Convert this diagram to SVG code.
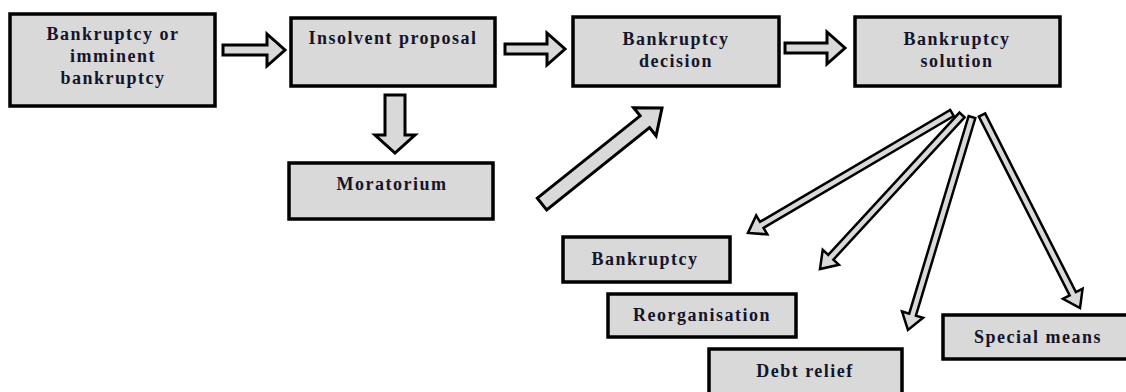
<svg xmlns="http://www.w3.org/2000/svg" width="1126" height="392" viewBox="0 0 1126 392">
<style>
.box{fill:#d9d9d9;stroke:#000;stroke-width:3.5}
.t{font-family:'Liberation Serif',serif;font-weight:bold;font-size:18px;letter-spacing:1.5px;fill:#14142a;text-anchor:middle}
.big{fill:#d9d9d9;stroke:#000;stroke-width:3;stroke-linejoin:miter}
.thin{fill:#d9d9d9;stroke:#000;stroke-width:2.5;stroke-linejoin:miter}
</style>
<rect width="1126" height="392" fill="#fff"/>
<g id="connectors">
  <polygon class="big" transform="translate(223,50)" points="0,-5 44,-5 44,-16 62,0 44,16 44,5 0,5"/>
  <polygon class="big" transform="translate(505,49)" points="0,-5 42,-5 42,-16 60,0 42,16 42,5 0,5"/>
  <polygon class="big" transform="translate(785,48)" points="0,-5 42,-5 42,-16 60,0 42,16 42,5 0,5"/>
  <polygon class="big" transform="translate(395,95) rotate(90)" points="0,-10 40,-10 40,-20 58,0 40,20 40,10 0,10"/>
  <polygon class="big" transform="translate(542,204) rotate(-38.66)" points="0,-7.5 131.7,-7.5 131.7,-18 153.7,0 131.7,18 131.7,7.5 0,7.5"/>
  <polygon class="thin" transform="translate(952,113) rotate(149.54)" points="0,-3.5 220.7,-3.5 220.7,-11 236.7,0 220.7,11 220.7,3.5 0,3.5"/>
  <polygon class="thin" transform="translate(962,115) rotate(132.68)" points="0,-3.5 193.5,-3.5 193.5,-11 209.5,0 193.5,11 193.5,3.5 0,3.5"/>
  <polygon class="thin" transform="translate(972,117) rotate(106.74)" points="0,-3.5 206.4,-3.5 206.4,-11 222.4,0 206.4,11 206.4,3.5 0,3.5"/>
  <polygon class="thin" transform="translate(982,115) rotate(63.08)" points="0,-3.5 200.5,-3.5 200.5,-11 216.5,0 200.5,11 200.5,3.5 0,3.5"/>
</g>
<g id="node-bankruptcy-or-imminent">
  <rect class="box" x="10" y="14" width="205" height="92"/>
  <text class="t" x="113" y="40">Bankruptcy or</text>
  <text class="t" x="113" y="62">imminent</text>
  <text class="t" x="113" y="84">bankruptcy</text>
</g>
<g id="node-insolvent-proposal">
  <rect class="box" x="291" y="18" width="204" height="68"/>
  <text class="t" x="393" y="44">Insolvent proposal</text>
</g>
<g id="node-bankruptcy-decision">
  <rect class="box" x="573" y="17" width="206" height="69"/>
  <text class="t" x="676" y="45">Bankruptcy</text>
  <text class="t" x="676" y="67">decision</text>
</g>
<g id="node-bankruptcy-solution">
  <rect class="box" x="855" y="17" width="205" height="69"/>
  <text class="t" x="957" y="45">Bankruptcy</text>
  <text class="t" x="957" y="67">solution</text>
</g>
<g id="node-moratorium">
  <rect class="box" x="289" y="163" width="204" height="56"/>
  <text class="t" x="392" y="190">Moratorium</text>
</g>
<g id="node-bankruptcy">
  <rect class="box" x="563" y="237" width="167" height="45"/>
  <text class="t" x="645" y="265">Bankruptcy</text>
</g>
<g id="node-reorganisation">
  <rect class="box" x="608" y="294" width="188" height="43"/>
  <text class="t" x="702" y="321">Reorganisation</text>
</g>
<g id="node-debt-relief">
  <rect class="box" x="709" y="349" width="193" height="52"/>
  <text class="t" x="805" y="377">Debt relief</text>
</g>
<g id="node-special-means">
  <rect class="box" x="943" y="315" width="192" height="44"/>
  <text class="t" x="1038" y="343">Special means</text>
</g>
</svg>
